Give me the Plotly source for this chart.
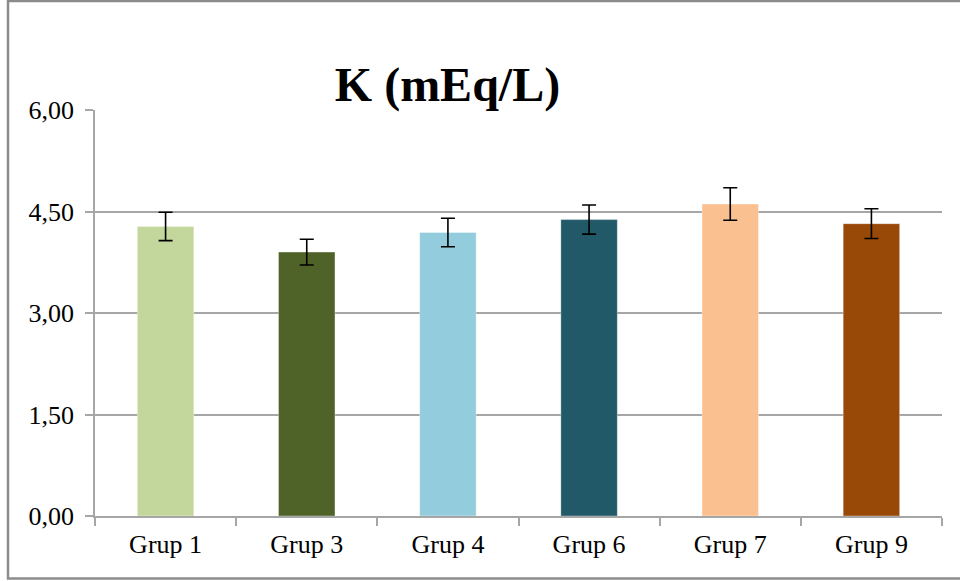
import plotly.graph_objects as go

# Potassium levels per group (mean ± error)
groups = ["Grup 1", "Grup 3", "Grup 4", "Grup 6", "Grup 7", "Grup 9"]
means = [4.28, 3.90, 4.19, 4.38, 4.61, 4.32]
errors = [0.21, 0.19, 0.21, 0.215, 0.24, 0.22]
colors = ["#C3D69B", "#4F6228", "#93CDDD", "#215968", "#FAC090", "#984807"]
y_ticks = [0, 1.5, 3.0, 4.5, 6.0]
y_labels = ["0,00", "1,50", "3,00", "4,50", "6,00"]

W, H = 960, 581
L, R, T, B = 95, 18, 110, 65

fig = go.Figure(
    go.Bar(
        x=groups,
        y=means,
        marker=dict(color=colors, line=dict(color="rgba(255,255,255,0.35)", width=1)),
        error_y=dict(type="data", array=errors, visible=True,
                     color="black", thickness=1.6, width=7),
        width=0.4,
    )
)

serif = "Liberation Serif, Times New Roman, serif"

# outer frame of the chart area (left, top and bottom edges)
pw = W - L - R
ph = H - T - B
def px(x):
    return (x - L) / pw
def py(y):
    return (H - B - y) / ph

fig.add_shape(type="rect", xref="paper", yref="paper",
              x0=px(8), x1=px(975), y0=py(578.5), y1=py(1),
              line=dict(color="#8C8C8C", width=2.5), layer="above")

fig.update_layout(
    width=W, height=H,
    margin=dict(l=L, r=R, t=T, b=B),
    paper_bgcolor="white",
    plot_bgcolor="white",
    showlegend=False,
    font=dict(family=serif, size=26, color="black"),
    title=dict(text="<b>K (mEq/L)</b>", xref="container", x=447.5 / W,
               xanchor="center", y=1 - 84 / H, yanchor="middle",
               font=dict(family=serif, size=48, color="black")),
    xaxis=dict(
        showline=True, linecolor="#A6A6A6", linewidth=1.5,
        ticks="outside", tickson="boundaries", ticklen=8,
        tickcolor="#A6A6A6", tickwidth=1.5,
        tickfont=dict(family=serif, size=26),
        ticklabelstandoff=4,
        showgrid=False,
    ),
    yaxis=dict(
        range=[0, 6], tickvals=y_ticks, ticktext=y_labels,
        showline=True, linecolor="#A6A6A6", linewidth=1.5,
        ticks="outside", ticklen=8, tickcolor="#A6A6A6", tickwidth=1.5,
        showgrid=True, gridcolor="#A6A6A6", gridwidth=1.5,
        zeroline=False,
        tickfont=dict(family=serif, size=26),
        ticklabelstandoff=6,
    ),
)

fig.write_html("out.html")
